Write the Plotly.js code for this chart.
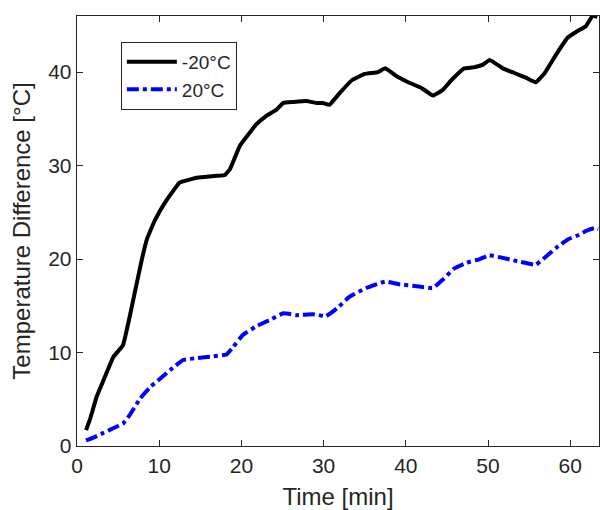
<!DOCTYPE html>
<html>
<head>
<meta charset="utf-8">
<script src="https://cdn.plot.ly/plotly-3.0.1.min.js"></script>
<style>html,body{margin:0;padding:0;background:#fff;}#chart{width:600px;height:510px;}</style>
</head>
<body>
<div id="chart"></div>
<script>
// Time [min] and temperature difference [°C] for the two series
const timeCold = [1.1,1.6,2.4,3.4,4.4,5.6,6.4,7.0,7.9,8.5,9.5,10.9,12.5,13.3,14.5,15.8,17.0,18.0,18.6,19.8,21.0,21.8,23.0,24.3,25.1,26.3,27.9,29.1,29.9,30.7,32.0,33.4,35.0,36.6,37.5,38.8,40.1,41.9,43.3,44.5,45.5,47.1,48.2,49.4,50.2,51.8,53.2,54.6,55.8,56.9,58.3,59.7,60.9,61.9,62.7,63.3];
const diffCold = [1.7,2.9,5.3,7.4,9.5,10.8,13.8,16.3,20.0,22.1,24.2,26.3,28.2,28.4,28.7,28.8,28.9,29.0,29.6,32.1,33.5,34.4,35.3,36.0,36.7,36.8,36.9,36.7,36.7,36.5,37.8,39.1,39.8,40.0,40.4,39.6,39.0,38.3,37.5,38.1,39.1,40.4,40.5,40.8,41.3,40.4,39.9,39.4,38.9,39.9,41.9,43.7,44.4,44.9,46.0,45.9];
const timeWarm = [1.1,2.0,3.2,4.4,5.6,6.4,7.7,8.9,10.1,11.3,12.9,14.5,16.6,18.2,19.0,20.2,21.8,23.5,25.1,26.7,28.7,30.3,31.6,33.2,35.2,37.5,39.2,41.3,43.3,44.5,45.9,47.4,49.0,50.1,51.4,53.4,55.8,57.1,58.3,59.7,61.1,61.9,62.9,63.4];
const diffWarm = [0.6,0.9,1.4,1.9,2.4,3.3,5.1,6.3,7.2,8.1,9.2,9.4,9.6,9.8,10.6,11.9,12.8,13.5,14.2,14.0,14.1,13.9,14.7,16.0,16.9,17.6,17.3,17.1,16.9,17.8,19.0,19.6,20.0,20.4,20.2,19.8,19.4,20.3,21.2,22.1,22.6,23.0,23.3,23.2];
const seriesNames = ['-20°C', '20°C'];
const xTicks = [0,10,20,30,40,50,60];
const yTicks = [0,10,20,30,40];

const FONT = 'Liberation Sans, Arial, Helvetica, sans-serif';
const INK = '#262626';

const traces = [
  {x: timeCold, y: diffCold, name: seriesNames[0], type: 'scatter', mode: 'lines',
   line: {color: '#000000', width: 4, shape: 'spline', smoothing: 0.3}},
  {x: timeWarm, y: diffWarm, name: seriesNames[1], type: 'scatter', mode: 'lines',
   line: {color: '#0000ff', width: 4, dash: 'dashdot', shape: 'spline', smoothing: 0.3}}
];

const layout = {
  width: 600, height: 510,
  margin: {l: 77, r: 1, t: 16, b: 64, pad: 0},
  paper_bgcolor: '#ffffff', plot_bgcolor: '#ffffff',
  font: {family: FONT, size: 21, color: INK},
  showlegend: true,
  legend: {x: 0.084, y: 0.94, xanchor: 'left', yanchor: 'top',
    bordercolor: INK, borderwidth: 1, bgcolor: '#ffffff',
    font: {family: FONT, size: 19, color: INK}, itemwidth: 50, tracegroupgap: 0},
  xaxis: {
    range: [0, 63.5], tickvals: xTicks, ticktext: xTicks.map(String),
    ticks: 'inside', ticklen: 6, tickwidth: 1, tickcolor: INK,
    showline: true, linecolor: INK, linewidth: 1.3, mirror: 'ticks',
    showgrid: false, zeroline: false, automargin: false,
    tickfont: {family: FONT, size: 21, color: INK},
    title: {text: 'Time [min]', font: {family: FONT, size: 24, color: INK}, standoff: 12}
  },
  yaxis: {
    range: [0, 46], tickvals: yTicks, ticktext: yTicks.map(String),
    ticks: 'inside', ticklen: 6, tickwidth: 1, tickcolor: INK,
    showline: true, linecolor: INK, linewidth: 1.3, mirror: 'ticks',
    showgrid: false, zeroline: false, automargin: false,
    tickfont: {family: FONT, size: 21, color: INK},
    title: {text: 'Temperature Difference [°C]', font: {family: FONT, size: 24, color: INK}, standoff: 10}
  }
};

Plotly.newPlot('chart', traces, layout, {displayModeBar: false, staticPlot: true});
</script>
</body>
</html>
